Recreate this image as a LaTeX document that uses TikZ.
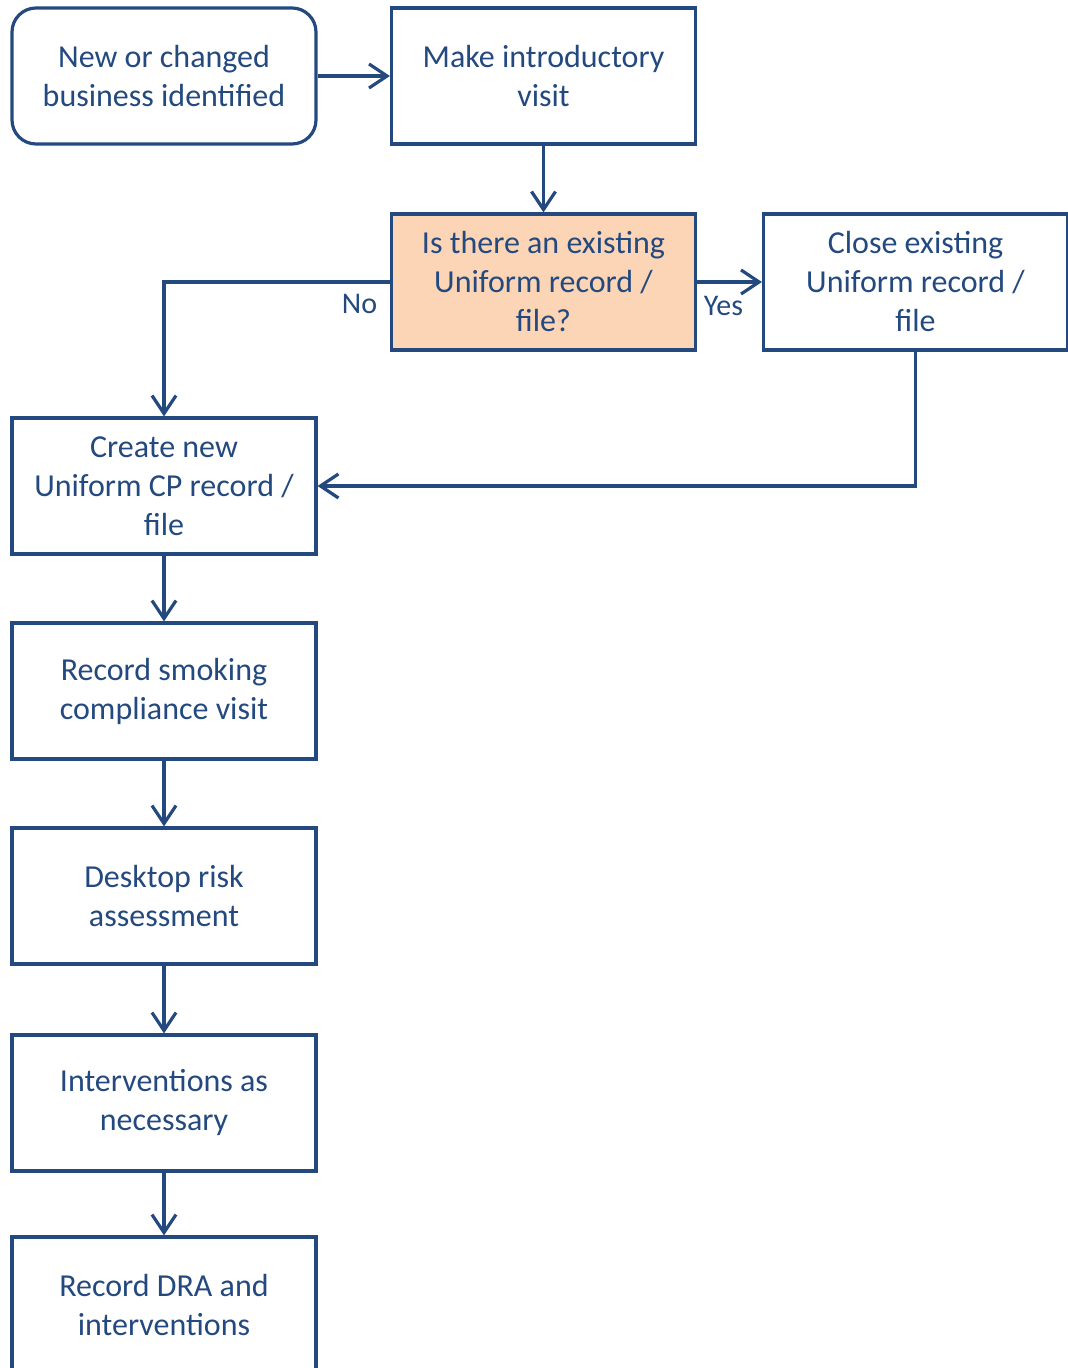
\documentclass[tikz,border=0pt]{standalone}
\usepackage{fontspec}
\setmainfont{Carlito}
\usetikzlibrary{arrows.meta}
\definecolor{navy}{HTML}{23497F}
\definecolor{peach}{HTML}{FBD5B5}
\begin{document}
\begin{tikzpicture}[x=0.5pt,y=-0.5pt,
    box/.style ={draw=navy,line width=1.6pt,text=navy,minimum width=152pt,minimum height=68pt,
                 align=center,font=\fontsize{16pt}{19.5pt}\selectfont},
    start/.style ={box,rounded corners=12pt},
    decision/.style ={box,fill=peach},
    link/.style ={draw=navy,line width=1.6pt,-{Straight Barb[length=9pt,width=12pt,line width=1.6pt]}},
    lbl/.style ={text=navy,font=\fontsize{15pt}{17pt}\selectfont}]
  \useasboundingbox (0,0) rectangle (1067,1368);
  \node[start] (new) at (164,76) {New or changed\\business identified};
  \node[box] (visit) at (543.5,76) {Make introductory\\visit};
  \node[decision] (exist) at (543.5,282) {Is there an existing\\Uniform record /\\file?};
  \node[box] (close) at (915.5,282) {Close existing\\Uniform record /\\file};
  \node[box] (create) at (164,486) {Create new\\Uniform CP record /\\file};
  \node[box] (smoking) at (164,691) {Record smoking\\compliance visit};
  \node[box] (desktop) at (164,896) {Desktop risk\\assessment};
  \node[box] (interv) at (164,1103) {Interventions as\\necessary};
  \node[box] (dra) at (164,1305) {Record DRA and\\interventions};
  \draw[link] (new) -- (visit);
  \draw[link] (visit) -- (exist);
  \draw[link] (exist.west) -| node[lbl,pos=0.01,below left,yshift=-2pt] {No} (create.north);
  \draw[link] (exist) -- node[lbl,below,xshift=-3pt,yshift=-3pt] {Yes} (close);
  \draw[link] (close.south) |- (create.east);
  \draw[link] (create) -- (smoking);
  \draw[link] (smoking) -- (desktop);
  \draw[link] (desktop) -- (interv);
  \draw[link] (interv) -- (dra);
\end{tikzpicture}
\end{document}
